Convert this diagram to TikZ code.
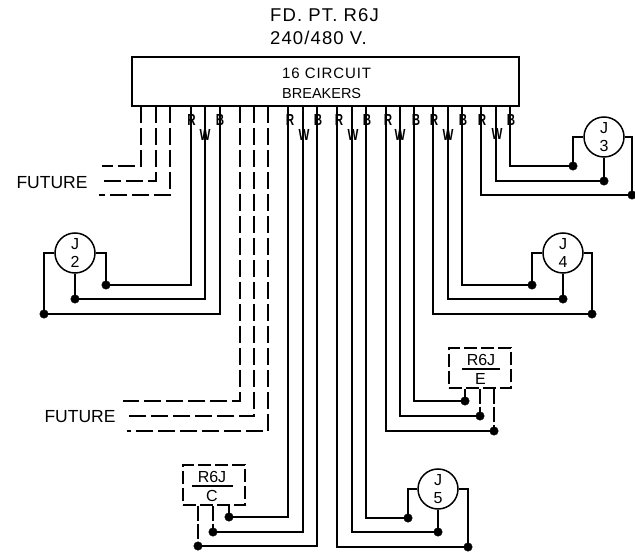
\documentclass[tikz,border=0pt]{standalone}
\usepackage{fontspec}
\setmainfont{Liberation Sans}
\newfontfamily\cadM[LetterSpace=6]{Liberation Sans}
\tikzset{
  wire/.style={line width=1.5pt,black},
  stubwire/.style={line width=1.5pt,black,dash pattern=on 15pt off 3pt},
  futurewire/.style={line width=1.5pt,black,dash pattern=on 17pt off 5pt},
  panel/.style={draw,line width=1.5pt,rectangle,minimum width=387pt,minimum height=49pt,inner sep=0pt},
  jbox/.style={draw,line width=1.5pt,circle,minimum size=40pt,inner sep=0pt,align=center,font=\fontsize{16}{18}\selectfont},
  dot/.style={circle,fill=black,draw=black,inner sep=0pt,minimum size=8.5pt},
  rbox/.style={draw,line width=1.5pt,dash pattern=on 13pt off 4pt,rectangle,minimum width=62pt,minimum height=40pt,inner sep=0pt},
  title/.style={inner sep=0pt,anchor=west,font=\cadM\fontsize{18.5}{20}\selectfont},
  paneltext/.style={inner sep=0pt,anchor=west,font=\cadM\fontsize{15}{17}\selectfont},
  paneltextb/.style={inner sep=0pt,anchor=west,font=\fontsize{14.5}{17}\selectfont},
  futuretext/.style={inner sep=0pt,font=\fontsize{17.5}{19}\selectfont},
  phase/.style={inner sep=0pt,font=\bfseries\fontsize{16}{18}\selectfont},
  rtext/.style={inner sep=0pt,font=\fontsize{16}{18}\selectfont},
  x=1pt,y=-1pt
}
\begin{document}
\begin{tikzpicture}
\useasboundingbox (0,0) rectangle (635,553);
% texts
\node[title] (t1) at (270,15) {FD. PT. R6J};
\node[title] (t2) at (270,38) {240/480 V.};
\node[panel] (panel) at (325.5,81.5) {};
\node[paneltext] (p1) at (282,73) {16 CIRCUIT};
\node[paneltextb] (p2) at (282,94) {BREAKERS};
\node[futuretext] (f1) at (52,183) {FUTURE};
\node[futuretext] (f2) at (80,417) {FUTURE};
% breaker tap-off points
\foreach \n/\x in {a/141,b/156,c/170,d/191,e/205,f/220,g/240,h/254,i/268,j/288,k/303,l/317,m/337,n/352,o/366,p/386,q/400,r/414,s/433,t/448,u/462,v/481,w/496,y/510}
  \coordinate (tap\n) at (\x,106);
% future ends
\coordinate (fa) at (102,166);
\coordinate (fb) at (100,181);
\coordinate (fc) at (99,195);
\coordinate (fg) at (123,401);
\coordinate (fh) at (127,416);
\coordinate (fi) at (127,431);
\draw[futurewire] (tapa) |- (fa);
\draw[futurewire] (tapb) |- (fb);
\draw[futurewire] (tapc) |- (fc);
\draw[futurewire] (tapg) |- (fg);
\draw[futurewire] (taph) |- (fh);
\draw[futurewire] (tapi) |- (fi);
% J2
\node[jbox] (J2) at (75,253) {J\\2};
\node[dot] (d2a) at (106,285) {};
\node[dot] (d2b) at (75,299) {};
\node[dot] (d2c) at (44,314) {};
\draw[wire] (tapd) |- (d2a);
\draw[wire] (tape) |- (d2b);
\draw[wire] (tapf) |- (d2c);
\draw[wire] (J2.east) -| (d2a);
\draw[wire] (J2.south) -- (d2b);
\draw[wire] (J2.west) -| (d2c);
% J3
\node[jbox] (J3) at (604,137) {J\\3};
\node[dot] (d3a) at (573,166) {};
\node[dot] (d3b) at (604,181) {};
\node[dot] (d3c) at (632,195) {};
\draw[wire] (tapy) |- (d3a);
\draw[wire] (tapw) |- (d3b);
\draw[wire] (tapv) |- (d3c);
\draw[wire] (J3.west) -| (d3a);
\draw[wire] (J3.south) -- (d3b);
\draw[wire] (J3.east) -| (d3c);
% J4
\node[jbox] (J4) at (563,253) {J\\4};
\node[dot] (d4a) at (532,285) {};
\node[dot] (d4b) at (563,299) {};
\node[dot] (d4c) at (592,314) {};
\draw[wire] (tapu) |- (d4a);
\draw[wire] (tapt) |- (d4b);
\draw[wire] (taps) |- (d4c);
\draw[wire] (J4.west) -| (d4a);
\draw[wire] (J4.south) -- (d4b);
\draw[wire] (J4.east) -| (d4c);
% J5
\node[jbox] (J5) at (438,489) {J\\5};
\node[dot] (d5a) at (408,518) {};
\node[dot] (d5b) at (438,532) {};
\node[dot] (d5c) at (468,547) {};
\draw[wire] (tapo) |- (d5a);
\draw[wire] (tapn) |- (d5b);
\draw[wire] (tapm) |- (d5c);
\draw[wire] (J5.west) -| (d5a);
\draw[wire] (J5.south) -- (d5b);
\draw[wire] (J5.east) -| (d5c);
% R6J E
\node[rbox] (E) at (480,368) {};
\node[rtext] (Ea) at (481,360) {R6J};
\node[rtext] (Eb) at (480.5,378.5) {E};
\coordinate (Ela) at (462,369);
\coordinate (Elb) at (500,369);
\draw[wire] (Ela) -- (Elb);
\node[dot] (dEa) at (465,401) {};
\node[dot] (dEb) at (480,416) {};
\node[dot] (dEc) at (494,431) {};
\draw[wire] (tapr) |- (dEa);
\draw[wire] (tapq) |- (dEb);
\draw[wire] (tapp) |- (dEc);
\draw[wire] (dEa |- E.south) -- (dEa);
\draw[stubwire] (dEb |- E.south) -- (dEb);
\draw[stubwire] (dEc |- E.south) -- (dEc);
% R6J C
\node[rbox] (C) at (214,485) {};
\node[rtext] (Ca) at (212,477) {R6J};
\node[rtext] (Cb) at (212,495.5) {C};
\coordinate (Cla) at (192,486);
\coordinate (Clb) at (233,486);
\draw[wire] (Cla) -- (Clb);
\node[dot] (dCa) at (229,517) {};
\node[dot] (dCb) at (213,532) {};
\node[dot] (dCc) at (198,546) {};
\draw[wire] (tapj) |- (dCa);
\draw[wire] (tapk) |- (dCb);
\draw[wire] (tapl) |- (dCc);
\draw[wire] (dCa |- C.south) -- (dCa);
\draw[stubwire] (dCb |- C.south) -- (dCb);
\draw[stubwire] (dCc |- C.south) -- (dCc);
% phase letters
\foreach \n/\l/\x/\y in {R1/R/191.5/120,W1/W/205/135,B1/B/220/120,R2/R/290/120,W2/W/304/135,B2/B/318/120,R3/R/339/120,W3/W/353/135,B3/B/367/120,R4/R/388/120,W4/W/400/135,B4/B/416/120,R5/R/434/120,W5/W/448/135,B5/B/463/120,R6/R/482/120,W6/W/497/134,B6/B/511/120}
  \node[phase] (ph\n) at (\x,\y) {\scalebox{0.72}[1]{\l}};
\end{tikzpicture}
\end{document}
